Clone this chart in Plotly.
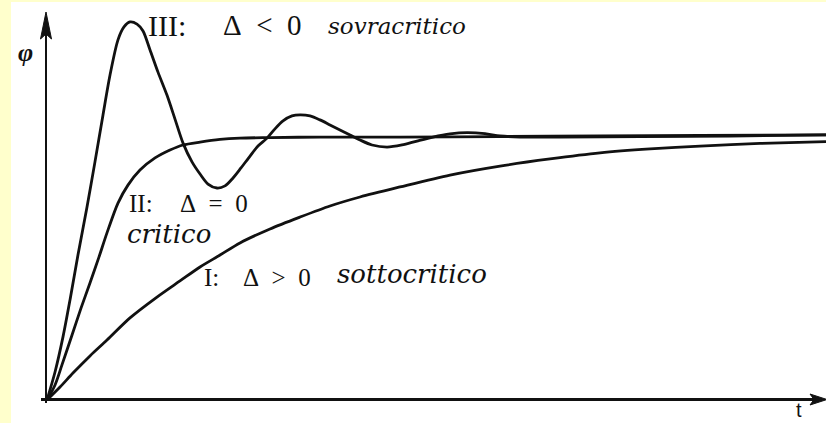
import plotly.graph_objects as go

# --- step responses of a second-order system (time t, output phi) ---
t_sovra = [0, 0.103, 0.205, 0.295, 0.397, 0.513, 0.615, 0.718, 0.808, 0.910, 0.987, 1.064,
           1.154, 1.231, 1.321, 1.423, 1.538, 1.641, 1.744, 1.859, 1.962, 2.064, 2.179,
           2.282, 2.385, 2.487, 2.603, 2.705, 2.821, 2.923, 3.026, 3.141, 3.244, 3.372,
           3.500, 3.628, 3.756, 3.885, 4.013, 4.167, 4.359, 4.551, 4.744, 4.949, 5.167,
           5.385, 5.615, 5.808, 6.064, 6.577, 7.603, 8.756, 9.987]
phi_sovra = [0, 0.106, 0.239, 0.379, 0.549, 0.731, 0.902, 1.080, 1.231, 1.364, 1.413, 1.432,
             1.424, 1.398, 1.326, 1.242, 1.155, 1.064, 0.973, 0.902, 0.856, 0.818, 0.803,
             0.811, 0.841, 0.879, 0.924, 0.962, 0.992, 1.027, 1.057, 1.076, 1.080, 1.076,
             1.061, 1.042, 1.023, 1.004, 0.985, 0.966, 0.958, 0.966, 0.981, 0.996, 1.008,
             1.013, 1.009, 1.000, 0.996, 0.996, 0.998, 1.000, 1.004]

t_crit = [0, 0.103, 0.192, 0.321, 0.436, 0.551, 0.667, 0.769, 0.910, 1.038, 1.192, 1.385,
          1.577, 1.744, 1.962, 2.218, 2.474, 2.859, 3.500, 4.526, 5.808, 7.090, 8.372, 9.987]
phi_crit = [0, 0.057, 0.133, 0.246, 0.348, 0.443, 0.542, 0.633, 0.746, 0.814, 0.871, 0.917,
            0.947, 0.966, 0.977, 0.987, 0.992, 0.994, 0.996, 0.996, 0.998, 1.000, 1.002, 1.004]

t_sotto = [0, 0.167, 0.333, 0.551, 0.769, 1.064, 1.410, 1.705, 1.962, 2.218, 2.474, 2.859,
           3.244, 3.628, 4.013, 4.526, 5.167, 5.808, 6.449, 7.090, 7.731, 8.372, 9.141, 9.987]
phi_sotto = [0, 0.049, 0.102, 0.167, 0.227, 0.311, 0.390, 0.451, 0.504, 0.549, 0.595, 0.648,
             0.693, 0.735, 0.769, 0.807, 0.852, 0.886, 0.913, 0.936, 0.951, 0.962, 0.972, 0.979]

W, H = 826, 423
ML, MT = 11, 2                      # pale-yellow frame on the left and top
T_RANGE = [-0.4615, 9.987]
PHI_RANGE = [-0.0871, 1.5076]

INK = "#111111"
SERIF = "Liberation Serif"
SERIF_IT = "DejaVu Serif"
SP = "\u00a0\u00a0"                 # wide gap around relation signs


def tx(px):
    """page x (pixels) -> t"""
    return T_RANGE[0] + (px - ML) / (W - ML) * (T_RANGE[1] - T_RANGE[0])


def py(px):
    """page y (pixels) -> phi"""
    return PHI_RANGE[1] - (px - MT) / (H - MT) * (PHI_RANGE[1] - PHI_RANGE[0])


fig = go.Figure()
for tt, pp in [(t_sotto, phi_sotto), (t_crit, phi_crit), (t_sovra, phi_sovra)]:
    fig.add_trace(go.Scatter(x=tt, y=pp, mode="lines",
                             line=dict(color=INK, width=2.8, shape="spline", smoothing=0.8),
                             hoverinfo="skip"))

shapes = [
    # phi axis
    dict(type="line", x0=tx(46), x1=tx(46), y0=py(403), y1=py(34),
         line=dict(color=INK, width=2)),
    dict(type="path", path=f"M {tx(46)},{py(12)} L {tx(40.5)},{py(39)} L {tx(46)},{py(34)} "
                           f"L {tx(51.5)},{py(39)} Z",
         fillcolor=INK, line=dict(color=INK, width=1)),
    # t axis
    dict(type="line", x0=tx(41), x1=tx(815), y0=py(399.5), y1=py(399.5),
         line=dict(color=INK, width=3)),
    dict(type="path", path=f"M {tx(827)},{py(399.5)} L {tx(810)},{py(394)} L {tx(814)},{py(399.5)} "
                           f"L {tx(810)},{py(405)} Z",
         fillcolor=INK, line=dict(color=INK, width=1)),
]


def label(text, x, y, size, anchor="left", family=SERIF):
    return dict(text=text, x=tx(x), y=py(y), xref="x", yref="y", showarrow=False,
                xanchor=anchor, yanchor="middle",
                font=dict(family=family, size=size, color=INK))


annotations = [
    label("III:", 146, 25, 30),
    label(f"Δ{SP}<{SP}0", 221, 25, 29),
    label("<i>sovracritico</i>", 326, 26, 23, family=SERIF_IT),
    label("II:", 127, 203, 25),
    label(f"Δ{SP}={SP}0", 178, 203, 25),
    label("<i>critico</i>", 125, 234, 26, family=SERIF_IT),
    label("I:", 202, 277, 25),
    label(f"Δ{SP}>{SP}0", 241, 277, 25),
    label("<i>sottocritico</i>", 335, 274, 26, family=SERIF_IT),
    label("<b><i>φ</i></b>", 25, 52, 26, anchor="center"),
    dict(text="t", x=tx(799), y=py(410), xref="x", yref="y", showarrow=False,
         xanchor="center", yanchor="middle",
         font=dict(family="Liberation Sans", size=20, color=INK)),
]

fig.update_layout(
    width=W, height=H,
    margin=dict(l=ML, r=0, t=MT, b=0),
    paper_bgcolor="#FFFFCC",
    plot_bgcolor="#FFFFFF",
    showlegend=False,
    xaxis=dict(range=T_RANGE, visible=False, fixedrange=True),
    yaxis=dict(range=PHI_RANGE, visible=False, fixedrange=True),
    shapes=shapes,
    annotations=annotations,
)

fig.write_html("out.html", config={"displayModeBar": False})
